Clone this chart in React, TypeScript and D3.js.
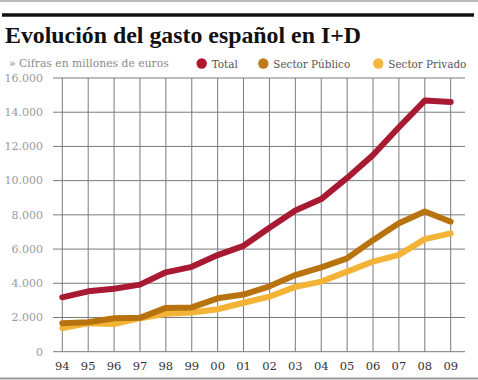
import React from "react";
import * as d3 from "d3";

const years = ["94", "95", "96", "97", "98", "99", "00", "01", "02", "03", "04", "05", "06", "07", "08", "09"];
const total = [3180, 3530, 3680, 3920, 4640, 4960, 5650, 6190, 7250, 8260, 8920, 10160, 11500, 13120, 14680, 14600];
const publico = [1670, 1720, 1960, 1980, 2560, 2590, 3120, 3340, 3820, 4480, 4930, 5460, 6520, 7510, 8200, 7600];
const privado = [1380, 1660, 1620, 1960, 2220, 2290, 2480, 2860, 3220, 3790, 4100, 4680, 5270, 5660, 6580, 6920];
const yTicks = [0, 2000, 4000, 6000, 8000, 10000, 12000, 14000, 16000];
const seriesNames = ["Total", "Sector Público", "Sector Privado"];

const colors = { total: "#a81a32", publico: "#b8730f", privado: "#f3b336" };
const legendColors = ["#b3172f", "#c07a1e", "#f4b83c"];

const W = 478;
const H = 380;
const serif = "'DejaVu Serif', 'Liberation Serif', serif";

export default function App() {
  const x = d3.scaleLinear().domain([0, years.length - 1]).range([62.3, 450.7]);
  const y = d3.scaleLinear().domain([0, 16000]).range([351.7, 78]);
  const gridLeft = 53;
  const gridRight = 465;

  const line = d3
    .line<number>()
    .x((_, i) => x(i))
    .y((d) => y(d))
    .curve(d3.curveLinear);

  const fmt = (v: number) => d3.format(",")(v).replace(/,/g, ".");

  const series = [
    { data: privado, color: colors.privado },
    { data: publico, color: colors.publico },
    { data: total, color: colors.total },
  ];

  const legendX = [201.7, 263.3, 378.3];

  return (
    <svg
      width={W}
      height={H}
      style={{ position: "absolute", left: 0, top: 0, background: "#fff" }}
    >
      <rect x={0} y={0} width={W} height={H} fill="#fff" />
      <line x1={0} x2={W} y1={1} y2={1} stroke="#bbb" strokeWidth={2} />
      <line x1={2} x2={474} y1={15} y2={15} stroke="#111" strokeWidth={3.5} />
      <text
        x={5}
        y={43}
        fontFamily={"'Liberation Serif', serif"}
        fontWeight="bold"
        fontSize={24}
        fill="#111"
        textLength={356}
        lengthAdjust="spacingAndGlyphs"
      >
        Evolución del gasto español en I+D
      </text>
      <text x={9} y={67} fontFamily={serif} fontSize={10.8} fill="#8a8a8a">
        » Cifras en millones  de euros
      </text>
      {seriesNames.map((n, i) => (
        <g key={n}>
          <circle cx={legendX[i]} cy={63.5} r={5.2} fill={legendColors[i]} />
          <text x={legendX[i] + 10} y={67.5} fontFamily={serif} fontSize={10.4} fill="#555">
            {n}
          </text>
        </g>
      ))}
      {yTicks.map((t) => (
        <g key={t}>
          <line x1={gridLeft} x2={gridRight} y1={y(t)} y2={y(t)} stroke="#7a7a7a" strokeWidth={1} />
          <text
            x={43}
            y={y(t)}
            dy="0.35em"
            textAnchor="end"
            fontFamily={serif}
            fontSize={11}
            fill="#9a9a9a"
          >
            {fmt(t)}
          </text>
        </g>
      ))}
      {years.map((yr, i) => (
        <g key={yr}>
          <line x1={x(i)} x2={x(i)} y1={y(16000)} y2={y(0)} stroke="#7a7a7a" strokeWidth={1} />
          <text
            x={x(i)}
            y={370}
            textAnchor="middle"
            fontFamily={serif}
            fontSize={11.5}
            fill="#333"
          >
            {yr}
          </text>
        </g>
      ))}
      {series.map((s, i) => (
        <path
          key={i}
          d={line(s.data) || ""}
          fill="none"
          stroke={s.color}
          strokeWidth={6}
          strokeLinejoin="round"
          strokeLinecap="round"
        />
      ))}
      <line x1={0} x2={W} y1={378.5} y2={378.5} stroke="#999" strokeWidth={2} />
    </svg>
  );
}
